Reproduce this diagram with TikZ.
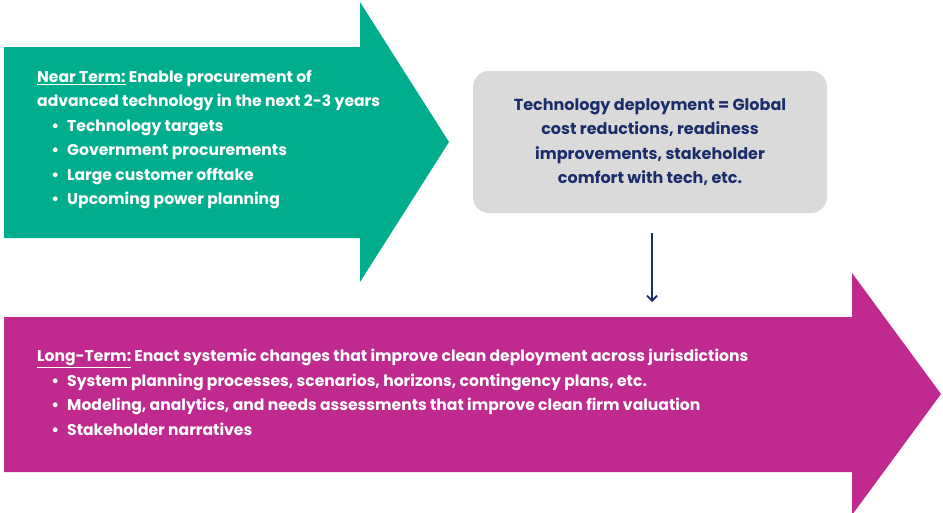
\documentclass[tikz,border=0pt]{standalone}
\usepackage{fontspec}
\setmainfont{Poppins}
\usetikzlibrary{arrows.meta}
\definecolor{nearg}{HTML}{00AE8E}
\definecolor{longm}{HTML}{C0298E}
\definecolor{boxg}{HTML}{DADADA}
\definecolor{navy}{HTML}{1B2D6B}
\newcommand{\bul}{\makebox[30pt][r]{\textbullet\hspace{8pt}}}
\begin{document}
\begin{tikzpicture}[x=1pt,y=-1pt,
  bodytext/.style={anchor=north west, align=left, inner sep=0pt, text=white,
    font=\fontsize{15.6}{24.5}\selectfont\bfseries},
  graybox/.style={fill=boxg, rounded corners=16pt, minimum width=354pt, minimum height=142pt,
    inner sep=0pt, align=center, text=navy, font=\fontsize{16}{24.5}\selectfont\bfseries},
  conn/.style={navy, line width=2.2pt, -{Straight Barb[length=5pt,width=10pt,line width=1.8pt]}}]
\useasboundingbox (0,0) rectangle (943,512);
\fill[nearg] (4,47) -- (360,47) -- (360,2) -- (449,142) -- (360,282) -- (360,238) -- (4,238) -- cycle;
\fill[longm] (4,317) -- (852,317) -- (852,273) -- (941,394) -- (852,515) -- (852,472) -- (4,472) -- cycle;
\node[bodytext] (near) at (37,70) {\underline{Near Term:} Enable procurement of\\
advanced technology in the next 2-3 years\\
\bul Technology targets\\
\bul Government procurements\\
\bul Large customer offtake\\
\bul Upcoming power planning};
\node[graybox] (gray) at (650,142) {Technology deployment = Global\\
cost reductions, readiness\\
improvements, stakeholder\\
comfort with tech, etc.};
\node[bodytext] (long) at (37,349) {\underline{Long-Term:} Enact systemic changes that improve clean deployment across jurisdictions\\
\bul System planning processes, scenarios, horizons, contingency plans, etc.\\
\bul Modeling, analytics, and needs assessments that improve clean firm valuation\\
\bul Stakeholder narratives};
\coordinate (arrEnd) at (652,302);
\draw[conn] ([shift={(2,20)}]gray.south) -- (arrEnd);
\end{tikzpicture}
\end{document}
